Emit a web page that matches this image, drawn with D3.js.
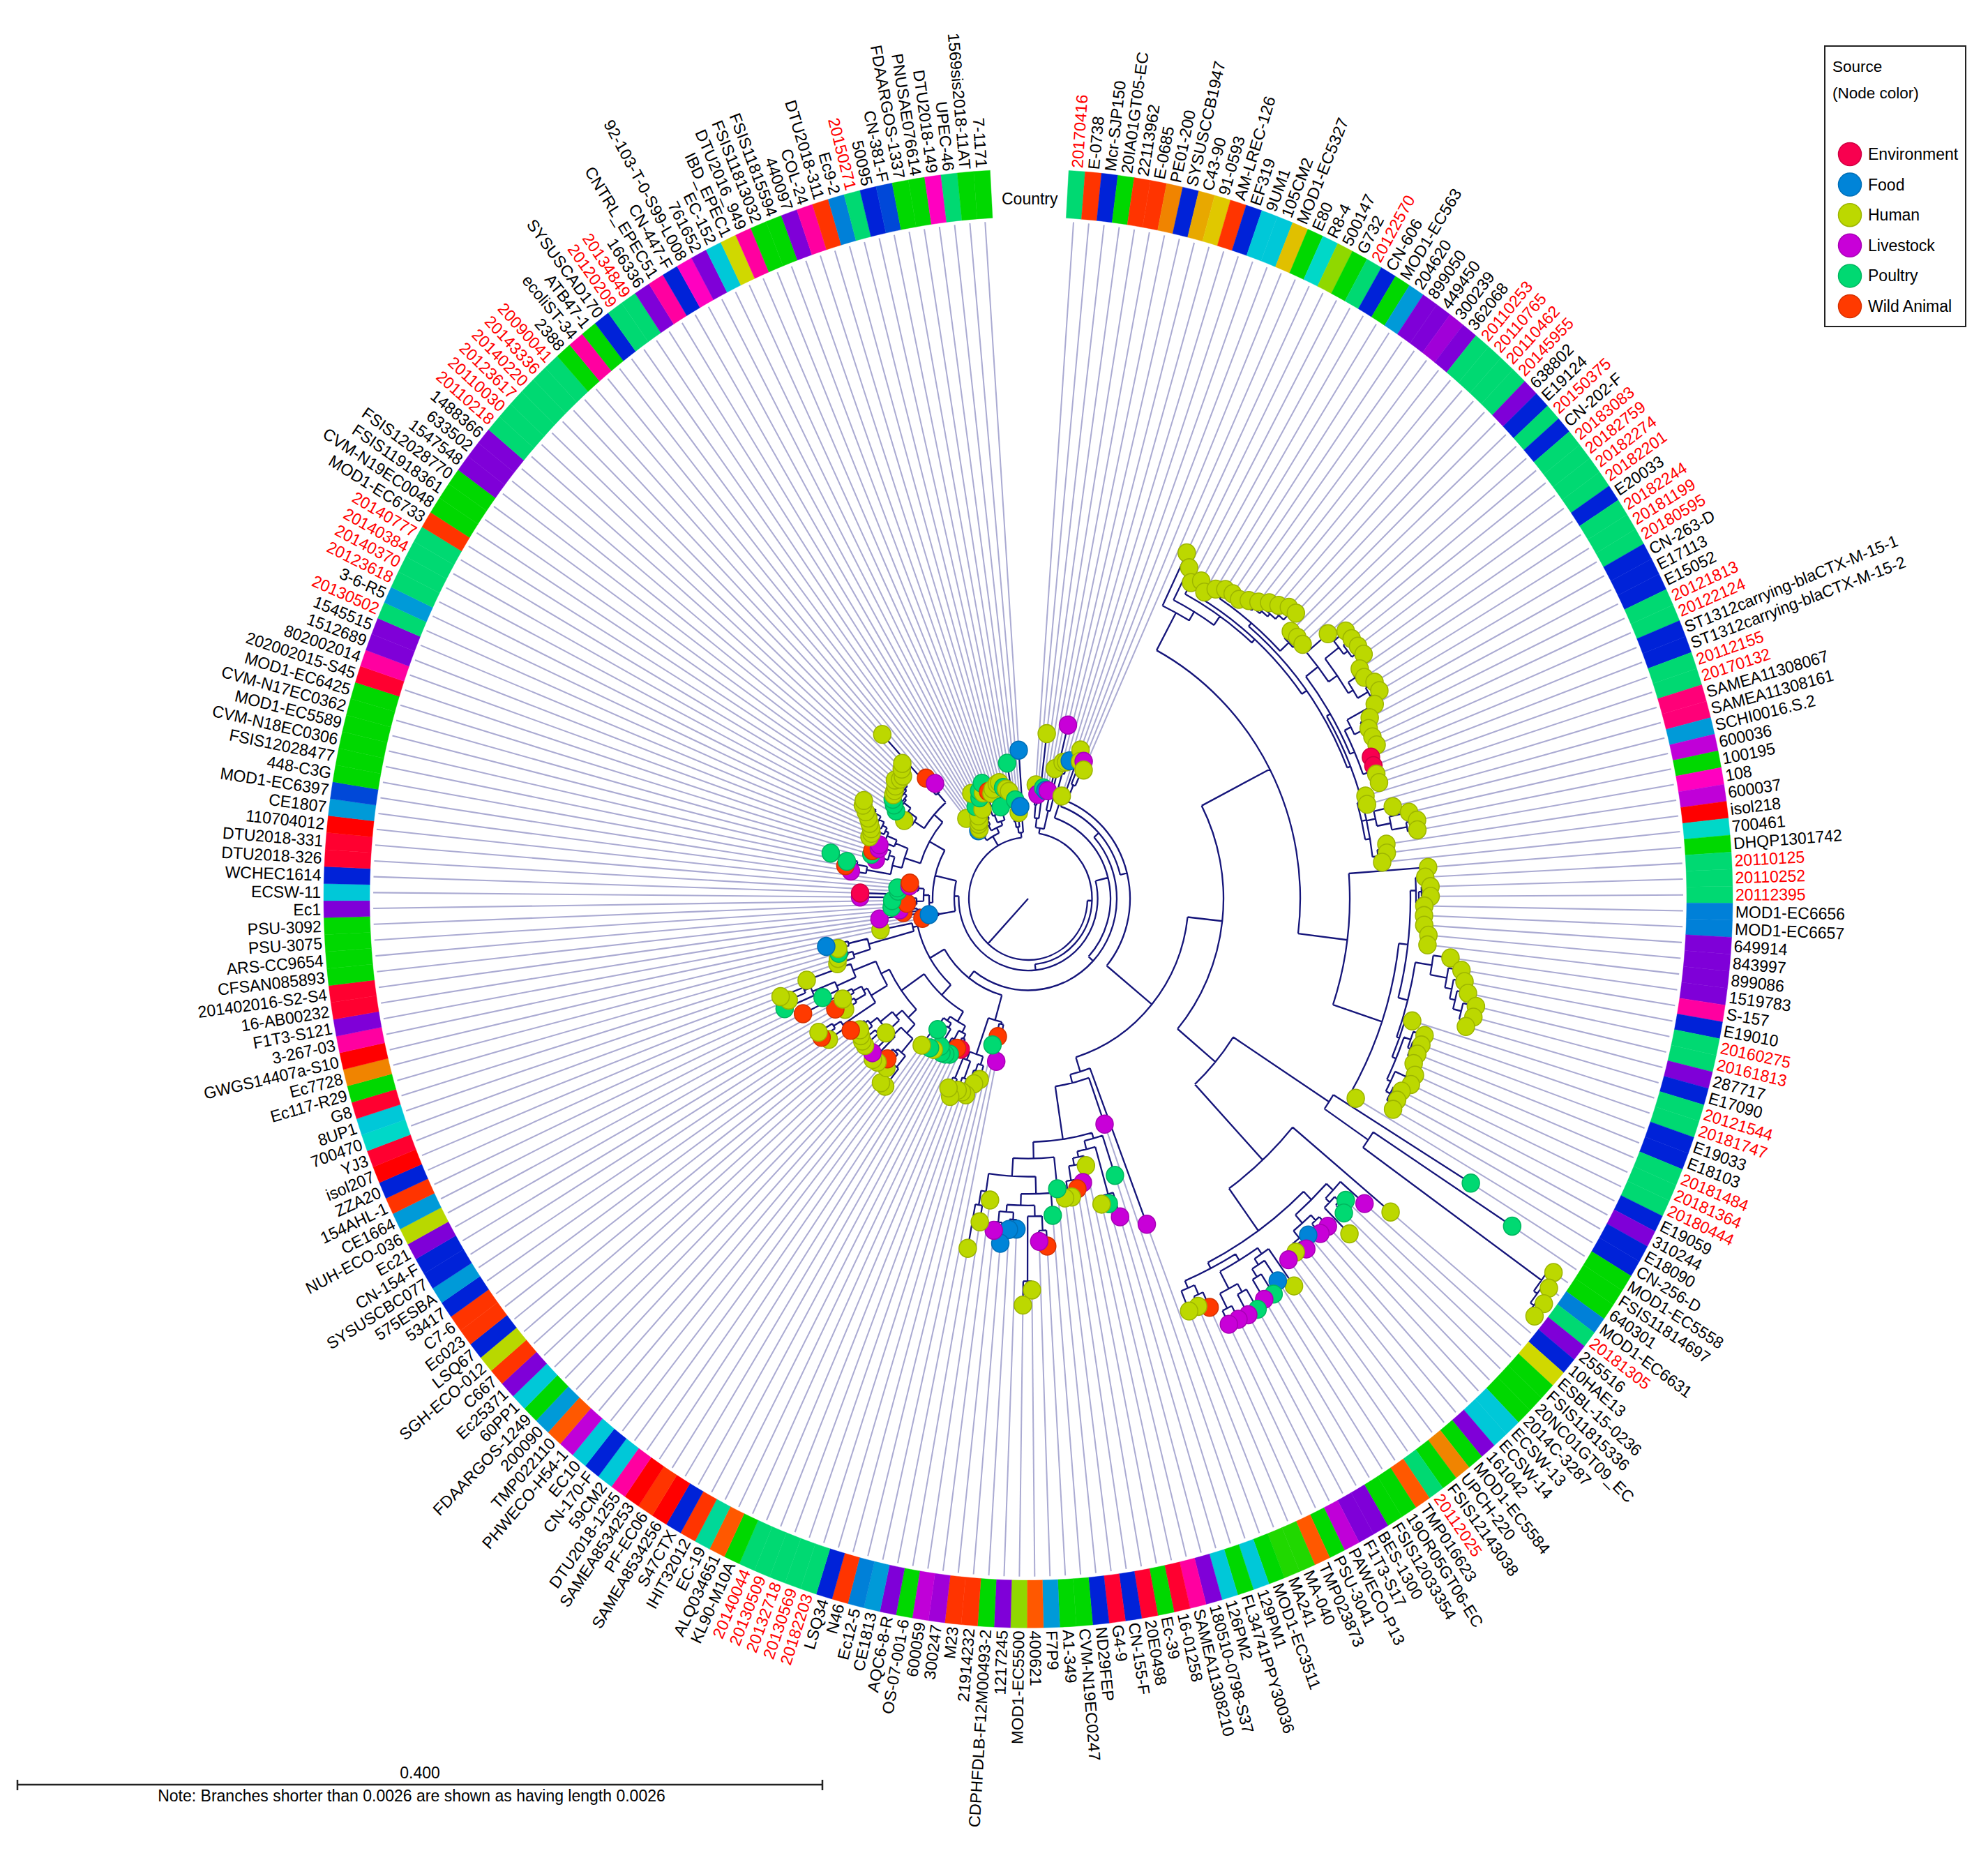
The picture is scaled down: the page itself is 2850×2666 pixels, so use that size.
<!DOCTYPE html>
<html>
<head>
<meta charset="utf-8">
<script src="https://cdn.jsdelivr.net/npm/d3@7"></script>
<style>
  body { margin: 0; background: #fff; }
  text { font-family: "Liberation Sans", Arial, sans-serif; }
</style>
</head>
<body>
<div id="chart"></div>
<script>
// leaves run clockwise from the top gap
const leafNames = ("20170416 E-0738 Mcr-SJP150 20IA01GT05-EC 22113962 E-0685 PE01-200 SYSUSCCB1947 C43-90 91-0593 AM-LREC-126 EF319 9UM1 105CM2 MOD1-EC5327 E80 R8-4 500147 G732 20122570 CN-606 MOD1-EC563 204620 899050 449450 300239 362068 " +
  "20110253 20110765 20110462 20145955 638802 E19124 20150375 CN-202-F 20183083 20182759 20182274 20182201 E20033 20182244 20181199 20180595 CN-263-D E17113 E15052 20121813 20122124 ST1312carrying-blaCTX-M-15-1 ST1312carrying-blaCTX-M-15-2 " +
  "20112155 20170132 SAMEA11308067 SAMEA11308161 SCHI0016.S.2 600036 100195 108 600037 isol218 700461 DHQP1301742 20110125 20110252 20112395 MOD1-EC6656 MOD1-EC6657 649914 843997 899086 1519783 S-157 E19010 20160275 20161813 287717 E17090 " +
  "20121544 20181747 E19033 E18103 20181484 20181364 20180444 E19059 310244 E18090 CN-256-D MOD1-EC5558 FSIS11814697 640301 MOD1-EC6631 20181305 255516 10HAE13 ESBL-15-0236 FSIS11815336 20NC01GT09_EC 2014C-3287 ECSW-13 ECSW-14 161042 MOD1-EC5584 " +
  "UPCH-220 FSIS12143038 20112025 TMP016623 19OR05GT06-EC FSIS12033354 BES-1300 F1T3-S17 PAWECO-P13 PSU-3041 TMP023873 MA-040 MA241 MOD1-EC3511 129PM1 FL34741PPY30036 126PM2 180510-0798-S37 SAMEA11308210 16-01258 Ec-39 20E0498 CN-155-F G4-9 " +
  "ND29FEP CVM-N19EC0247 A1-349 F7P9 400621 MOD1-EC5500 1217245 CDPHFDLB-F12M00493-2 21914232 M23 300247 600059 OS-07-001-6 AQC6-8-R CE1813 Ec12-5 N46 LSQ34 20182203 20130569 20132718 20130509 20140044 KL90-M10A ALQ034651 EC-19 IHIT32012 S47CTX " +
  "SAMEA8534256 PF-EC06 SAMEA8534253 DTU2018-1255 59CM2 CN-170-F EC10 PHWECO-H54-1 TMP022110 200090 FDAARGOS-1249 60PP1 Ec25371 C667 SGH-ECO-012 LSQ67 Ec023 C7-6 53417 575ESBA SYSUSCBC077 CN-154-F Ec21 NUH-ECO-036 CE1664 154AHL-1 ZZA20 isol207 YJ3 " +
  "700470 8UP1 G8 Ec117-R29 Ec7728 GWGS14407a-S10 3-267-03 F1T3-S121 16-AB00232 201402016-S2-S4 CFSAN085893 ARS-CC9654 PSU-3075 PSU-3092 Ec1 ECSW-11 WCHEC1614 DTU2018-326 DTU2018-331 110704012 CE1807 MOD1-EC6397 448-C3G FSIS12028477 CVM-N18EC0306 " +
  "MOD1-EC5589 CVM-N17EC0362 MOD1-EC6425 202002015-S45 802002014 1512689 1545515 20130502 3-6-R5 20123618 20140370 20140384 20140777 MOD1-EC6733 CVM-N19EC0048 FSIS11918361 FSIS12028770 1547548 633502 1488366 20110218 20110030 20123617 20140220 " +
  "20143336 20090041 2388 ecoliST-34 ATB47-1 SYSUSCAD170 20120209 20134849 166336 CNTRL_EPEC51 CN-447-F 92-103-T-0-S99-L008 761652 EC-152 IBD_EPEC1 DTU2016_949 FSIS11813032 FSIS11815594 440097 COL-24 DTU2018-311 Ec9-2 20150271 50095 CN-381-F " +
  "FDAARGOS-1337 PNUSAE076614 DTU2018-149 UPEC-46 1569sis2018-11AT 7-1171").split(" ");

// distance of each leaf node from the root, read in scale bar pixels (1154 = 0.400)
const leafDepths = [
  158,145,230,155,152,152,184,247,195,197,200,150,219,204,206,195,
  530,513,496,505,494,506,513,514,513,520,527,536,542,550,551,528,529,528,
  565,587,587,588,588,572,571,580,580,565,550,542,542,543,529,528,528,528,
  504,503,538,559,568,566,519,518,510,575,570,577,577,568,568,569,576,576,
  611,629,636,644,659,659,652,576,599,599,598,598,606,606,598,598,599,545,
  747,829,914,921,928,928,677,641,618,628,654,625,625,615,628,622,624,658,639,651,650,657,657,656,656,623,615,616,
  482,331,403,460,438,436,379,401,408,418,418,404,440,482,475,542,563,458,459,479,462,421,453,492,
  230,196,209,260,268,286,284,284,296,286,230,231,243,246,247,240,249,250,223,254,
  331,331,310,300,313,315,309,276,310,309,306,302,313,346,353,353,304,316,300,360,325,381,371,380,337,288,285,282,281,297,216,
  154,144,215,180,185,196,174,195,241,241,187,188,171,171,257,266,265,290,225,233,233,225,226,
  243,242,245,250,255,262,270,272,208,225,232,238,241,243,246,252,247,247,255,260,309,222,208,
  142,118,119,125,128,135,148,167,140,156,165,160,173,159,155,160,133,165,166,158,155,151,190,138,120,128,206
];

// E environment, F food, H human, L livestock, P poultry, W wild animal
const leafSources = ("H L H P F L H L H H F H H H L H " +
  "H H H H H H H H H H H H H H H H H H " +
  "H H H H H H H H H H H H H H E E H H " +
  "H H H H H H H H H H H H H H H H H H " +
  "H H H H H H H H H H H H H H H H H H " +
  "P P H H H H H L P P H L L F L H L H F P L P L L L W H H " +
  "L L P L P H H L W H H P P W L H H F F F L H H H " +
  "L W P H H H H H H H E W P P P P H P P H " +
  "H H H W H H L H H H H H W H W H H W H W P P H H H H H P H F H " +
  "W F L W L P W P L E P P L W L W P P L P W L L " +
  "H H H H H H H H H P P P H H H H H H H H H W L " +
  "H F H H H H P H H P P H P W H H P H H P H H P P H F F").split(" ");

const sourceNames = ["Environment", "Food", "Human", "Livestock", "Poultry", "Wild Animal"];
const sourceCodes = ["E", "F", "H", "L", "P", "W"];
const sourceColors = ["#f8004f", "#0084d8", "#bcd800", "#c800d8", "#00d972", "#ff3a00"];

const countryCodes = ("S O B G O O a B A y O B C C e G T l G S B G k U U V U S S S S U B S B S S S S B S S S B B B S S B B S S " +
  "p p k M G P M r T G S S S K K U U U U h B S S U B S S B B S S S B U B B G G G K S U B Y G G G C C U G a G S o G G U U M G o n n G C G C U h R G R B R B G G k o l U G O O V M G U k K O B S S S S S G o t O B r O r h C B C M o k G C U O L B O O " +
  "B k B B U L k O B r R T C R G a r h U R R G G G G U C B R R r k d G G G G G G R h U U S k S S S S O G G G U U U S S S S S S G h G B S S U h B P U C Y h G G U h O K S B d G G P S G G").split(" ");

const countryPalette = {
  S: "#00d972", G: "#00d800", n: "#20d800", B: "#0022d8", d: "#0048d8", U: "#7f00d8", V: "#a000d8", M: "#c000d8",
  P: "#ff00c0", h: "#ff00a0", p: "#ff0078", R: "#ff0030", r: "#ff0000", O: "#ff3400", o: "#ff5800", a: "#f08400",
  A: "#e8a800", y: "#e0c800", e: "#e0c000", Y: "#d0d800", L: "#b8d800", l: "#90d800", C: "#00c8d8", T: "#00d8c8",
  t: "#00d898", k: "#009ad8", K: "#0080d8"
};

// clades: [depth of the node, child, child...], a plain number is a leaf id
const cladeFirst = [99, [112, [130, 1, 2], [140, 3, [146, 4, [149, 5, 6]]]], [125, 7, [150, 8, [180, 9, [190, 10, 11]]]]];

const cladeHumanA = [449, 17, [463, 18, [478, 19, [484, [490, 20, 21],
  [492,
    [498, [503, 22, [507, 23, [510, 24, [512, 25, [516, 26, [520, 27, [525, 28, [532, 29, [540, 30, 31]]]]]]]]],
      [515, 32, [520, 33, 34]]],
    [497,
      [503,
        [525, 35, [540, [565, 36, [572, 37, [578, 38, 39]]], [548, [560, 40, 41], [565, 42, 43]]]],
        [510, [520, 44, [535, 45, [537, 46, [538, 47, 48]]]], [518, [523, 49, 50], [524, 51, 52]]]],
      [490, [498, 53, 54], [497, [510, 55, [530, 56, [552, 57, 58]]], [505, [512, 59, 60], 61]]]]]]]]];

const cladeHumanB = [461, 62, [535, [548,
  [556, 63, [560, [564, 64, 65], [563, 66, [565, 67, [567, 68, [570, 69, 70]]]]]],
  [562,
    [586, 71, [610, 72, [620, 73, [628, 74, [640, 75, [648, 76, 77]]]]]],
    [566, 78, [572, [582, 79, [586, 80, [590, 81, 82]]], [578, [595, 83, 84], [585, 85, [590, 86, 87]]]]]]], 88]];

const cladeLong = [515, 89, [591, 90, [906, 91, [912, 92, [918, 93, 94]]]]];

const cladeMixedA = [494, 95, [566,
  [582, [595, 96, [603, [612, 97, 98], 99]], [597, [607, 100, 101], [610, 102, [615, 103, [618, 104, 105]]]]],
  [575,
    [585, [595, 106, [605, 107, [618, 108, 109]]], [612, [625, 110, 111], [635, 112, 113]]],
    [586, [600, 114, 115], 116]]]];

const cladeBottom = [251, 117, [263, 118, [337,
  [345, 119, [357, [425, 120, [432, 121, 122]], [365, 123, [375, 124, [395, 125, [410, 126, 127]]]]]],
  [360, 128, [385,
    [409, 129, [425, [440, [460, 130, 131], [530, 132, 133]], [435, [445, 134, 135], [450, 136, 137]]]],
    [410, 138, [430, 139, 140]]]]]]];

const cladeLowerA = [175, [178, 141, [185, 142, 143]], [228, [240, 144, [250, 145, 146]], [240, [265, 147, 148], [270, 149, 150]]]];

const cladeLowerB = [198, [208, [215, 151, 152], [222, 153, [230, 154, 155]]], [205, [212, 156, [225, 157, 158]], [215, 159, 160]]];

const cladeLowerC = [222,
  [238, [255, [280, [300, 161, 162], [285, 163, [290, 164, 165]]], [270, 166, 167]],
    [250, 168, [272, [285, 169, 170], [285, 171, [290, 172, 173]]]]],
  [235, [262, [318, 174, [330, 175, 176]], [268, [285, 177, 178], [282, 179, 180]]],
    [270, [300, 181, [335, 182, [345, 183, 184]]], 185]]];

const cladeLowerD = [170, [237, [262, 186, [270, 187, 188]], [265, 189, 190]], 191];

const cladeLeftA = [142, [155, 194, [160, 195, 196]],
  [150, [160, [168, 197, 198], [175, 199, [190, 200, 201]]], [158, [170, 202, 203], [163, 204, 205]]]];

const cladeLeftB = [162,
  [186,
    [200, [235, 206, [250, 207, [258, 208, 209]]], [208, [215, 210, [222, 211, 212]], [215, 213, 214]]],
    [205, 215, [220, 216, [225, 217, [232, 218, [240, 219, [250, 220, [258, 221, 222]]]]]]]],
  [178,
    [195, 223, [210, [218, 224, 225], [222, 226, [225, 227, [230, 228, [233, 229, [237, 230, [240, 231, [243, 232, [248, 233, 234]]]]]]]]]],
    [195, 235, [200, 236, 237]]]];

const cladeTopA = [100,
  [106, [111, 238, 239], [113, 240, [117, 241, [121, 242, 243]]]],
  [108, [116, 244, [124, 245, [130, 246, [136, 247, 248]]]],
    [114, [125, 249, [138, 250, [145, 251, 252]]], [122, 253, [127, 254, [140, 255, [148, 256, [150, 257, 258]]]]]]]];

const cladeTopB = [92, [100, [108, 259, 260], [110, 261, 262]], [112, 263, 264]];

// backbone from the root outwards
const cladeUpper = [280, [390, cladeHumanA, cladeHumanB], [351, cladeLong, cladeMixedA]];
const cladeRing146 = [146, [170, 14, [185, 15, 16]], [230, cladeUpper, cladeBottom]];
const cladeRing139 = [139, cladeLowerA, [163, [182, cladeLowerB, cladeLowerC], cladeLowerD]];
const cladeRight = [118, 12, [127, [136, 13, cladeRing146], cladeRing139]];
const cladeLeft = [106, [130, 192, 193], [117, [137, cladeLeftA, cladeLeftB]]];
const treeRoot = [85, [91.5, cladeFirst, [99.6, cladeRight, cladeLeft]], cladeTopA, cladeTopB];

if (leafNames.length !== 264 || leafDepths.length !== 264 || leafSources.length !== 264 || countryCodes.length !== 264) {
  throw new Error("counts " + [leafNames.length, leafDepths.length, leafSources.length, countryCodes.length]);
}

const width = 2850, height = 2666;
const cx = 1474, cy = 1288, stretch = 1.035;
const stripInner = 944, stripOuter = 1010, labelRadius = 1014, guideEnd = 939;
const navy = "#15157a", guide = "#aaaad2";

const svg = d3.select("#chart").append("svg")
  .attr("width", width).attr("height", height)
  .style("display", "block").style("background", "#fff");

const plot = svg.append("g").attr("transform", "translate(" + cx + "," + cy + ") scale(1," + stretch + ")");

const leafIds = d3.range(1, leafNames.length + 1);
const angle = d3.scaleBand().domain(leafIds).range([3.3 * Math.PI / 180, 356.9 * Math.PI / 180]);
const radius = d3.scaleLinear().domain([0, 1154]).range([0, 1154]);
const sourceColor = d3.scaleOrdinal().domain(sourceCodes).range(sourceColors);
const leafAngle = id => angle(id) + angle.bandwidth() / 2;

function toNode(item) {
  if (typeof item === "number") return { leaf: item, depth: leafDepths[item - 1] };
  return { depth: item[0], kids: item.slice(1).map(toNode) };
}

const root = d3.hierarchy(toNode(treeRoot), d => d.kids);
root.eachAfter(n => {
  if (n.children) {
    const a = n.children[0].data.angle, b = n.children[n.children.length - 1].data.angle;
    n.data.angle = (a + b) / 2;
  } else {
    n.data.angle = leafAngle(n.data.leaf);
  }
});
const leaves = root.leaves();

// guides from each leaf node to the strip
plot.append("g").selectAll("line").data(leaves).join("line")
  .each(function (d) {
    const p0 = d3.pointRadial(d.data.angle, radius(d.data.depth));
    const p1 = d3.pointRadial(d.data.angle, guideEnd);
    d3.select(this).attr("x1", p0[0]).attr("y1", p0[1]).attr("x2", p1[0]).attr("y2", p1[1]);
  })
  .attr("stroke", guide).attr("stroke-width", 2);

// country strip
const arc = d3.arc().innerRadius(stripInner).outerRadius(stripOuter);
plot.append("g").selectAll("path").data(leafIds).join("path")
  .attr("d", id => arc({ startAngle: angle(id), endAngle: angle(id) + angle.bandwidth() }))
  .attr("fill", id => countryPalette[countryCodes[id - 1]])
  .attr("stroke", id => countryPalette[countryCodes[id - 1]])
  .attr("stroke-width", 0.4);

// tree branches
const branches = d3.path();
root.each(n => {
  const r = radius(n.data.depth);
  if (n.children) {
    const a0 = n.children[0].data.angle, a1 = n.children[n.children.length - 1].data.angle;
    const start = d3.pointRadial(a0, r);
    branches.moveTo(start[0], start[1]);
    branches.arc(0, 0, r, a0 - Math.PI / 2, a1 - Math.PI / 2);
  }
  const from = d3.pointRadial(n.data.angle, n.parent ? radius(n.parent.data.depth) : 0);
  const to = d3.pointRadial(n.data.angle, r);
  branches.moveTo(from[0], from[1]);
  branches.lineTo(to[0], to[1]);
});
plot.append("path").attr("d", branches.toString())
  .attr("fill", "none").attr("stroke", navy).attr("stroke-width", 2.3);

// leaf nodes
plot.append("g").selectAll("circle").data(leaves).join("circle")
  .attr("cx", d => d3.pointRadial(d.data.angle, radius(d.data.depth))[0])
  .attr("cy", d => d3.pointRadial(d.data.angle, radius(d.data.depth))[1])
  .attr("r", 12.5)
  .attr("fill", d => sourceColor(leafSources[d.data.leaf - 1]))
  .attr("stroke", d => d3.color(sourceColor(leafSources[d.data.leaf - 1])).darker(0.5))
  .attr("stroke-width", 1.5);

// leaf labels, the ones with a plain 8 digit id are red
plot.append("g").selectAll("text").data(leafIds).join("text")
  .attr("transform", id => {
    const deg = leafAngle(id) * 180 / Math.PI;
    const p = d3.pointRadial(leafAngle(id), labelRadius);
    return "translate(" + p[0] + "," + p[1] + ") rotate(" + (deg < 180 ? deg - 90 : deg + 90) + ")";
  })
  .attr("text-anchor", id => leafAngle(id) < Math.PI ? "start" : "end")
  .attr("dy", "0.35em")
  .attr("font-size", 23)
  .attr("fill", id => /^20\d{6}$/.test(leafNames[id - 1]) ? "#ff0000" : "#000")
  .text(id => leafNames[id - 1]);

svg.append("text").attr("x", 1436).attr("y", 293).attr("font-size", 23).text("Country");

// legend
const legend = svg.append("g");
legend.append("rect").attr("x", 2616).attr("y", 66).attr("width", 202).attr("height", 402)
  .attr("fill", "#fff").attr("stroke", "#222").attr("stroke-width", 2);
legend.append("text").attr("x", 2627).attr("y", 103).attr("font-size", 22.5).text("Source");
legend.append("text").attr("x", 2627).attr("y", 141).attr("font-size", 22.5).text("(Node color)");
const legendY = d3.scalePoint().domain(sourceCodes).range([221, 439]);
legend.selectAll("circle").data(sourceCodes).join("circle")
  .attr("cx", 2652).attr("cy", c => legendY(c)).attr("r", 16.5)
  .attr("fill", c => sourceColor(c))
  .attr("stroke", c => d3.color(sourceColor(c)).darker(0.5)).attr("stroke-width", 1.5);
legend.selectAll("text.item").data(sourceCodes).join("text").attr("class", "item")
  .attr("x", 2678).attr("y", c => legendY(c) + 8).attr("font-size", 23)
  .text((c, i) => sourceNames[i]);

// scale bar
const bar = d3.scaleLinear().domain([0, 0.4]).range([25, 1179]);
const scaleGroup = svg.append("g").attr("stroke", "#222").attr("stroke-width", 2.5);
scaleGroup.append("line").attr("x1", bar(0)).attr("x2", bar(0.4)).attr("y1", 2558).attr("y2", 2558);
scaleGroup.selectAll("line.tick").data([0, 0.4]).join("line").attr("class", "tick")
  .attr("x1", d => bar(d)).attr("x2", d => bar(d)).attr("y1", 2551).attr("y2", 2566);
svg.append("text").attr("x", bar(0.2)).attr("y", 2549).attr("text-anchor", "middle").attr("font-size", 23)
  .text(d3.format(".3f")(0.4));
svg.append("text").attr("x", 590).attr("y", 2582).attr("text-anchor", "middle").attr("font-size", 23)
  .text("Note: Branches shorter than 0.0026 are shown as having length 0.0026");
</script>
</body>
</html>
